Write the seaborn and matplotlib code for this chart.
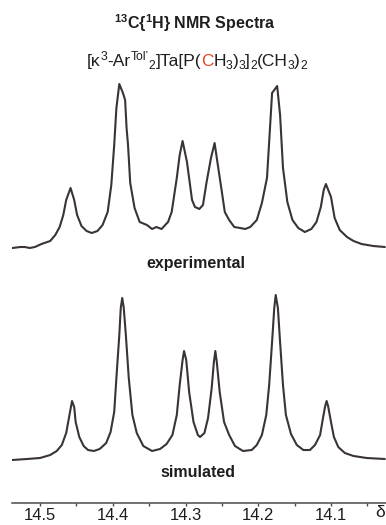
import numpy as np
import pandas as pd
import matplotlib
matplotlib.use("Agg")
import matplotlib.pyplot as plt
import seaborn as sns
from matplotlib.font_manager import FontProperties, findfont, get_font

# ---------------- data ----------------
exp_ppm = [14.538, 14.527, 14.521, 14.514, 14.507, 14.498, 14.486, 14.479, 14.473,
           14.468, 14.464, 14.458, 14.453, 14.449, 14.443, 14.436, 14.429, 14.421,
           14.414, 14.407, 14.402, 14.398, 14.395, 14.391, 14.386, 14.383, 14.381,
           14.379, 14.376, 14.370, 14.363, 14.353, 14.346, 14.340, 14.333, 14.324,
           14.319, 14.312, 14.308, 14.304, 14.298, 14.291, 14.287, 14.281, 14.276,
           14.271, 14.265, 14.260, 14.256, 14.250, 14.246, 14.240, 14.233, 14.225,
           14.218, 14.211, 14.202, 14.195, 14.188, 14.185, 14.181, 14.174, 14.170,
           14.166, 14.160, 14.153, 14.145, 14.136, 14.127, 14.120, 14.114, 14.110,
           14.107, 14.100, 14.095, 14.088, 14.078, 14.069, 14.058, 14.042, 14.026]
exp_int = [0.00, 0.01, 0.01, 0.00, 0.01, 0.04, 0.07, 0.13, 0.21,
           0.33, 0.48, 0.60, 0.48, 0.33, 0.22, 0.17, 0.15, 0.17,
           0.23, 0.36, 0.63, 1.03, 1.40, 1.64, 1.55, 1.48, 1.20,
           1.03, 0.65, 0.40, 0.26, 0.23, 0.19, 0.21, 0.19, 0.26,
           0.36, 0.70, 0.93, 1.07, 0.86, 0.48, 0.41, 0.39, 0.43,
           0.66, 0.90, 1.05, 0.85, 0.56, 0.36, 0.28, 0.21, 0.20,
           0.19, 0.21, 0.28, 0.45, 0.70, 1.06, 1.55, 1.62, 1.33,
           0.80, 0.46, 0.28, 0.20, 0.16, 0.19, 0.26, 0.41, 0.58,
           0.64, 0.51, 0.30, 0.18, 0.11, 0.07, 0.04, 0.02, 0.01]

sim_ppm = [14.538, 14.518, 14.500, 14.486, 14.477, 14.470, 14.464, 14.460, 14.457,
           14.456, 14.453, 14.451, 14.446, 14.440, 14.434, 14.426, 14.418, 14.409,
           14.403, 14.398, 14.395, 14.391, 14.389, 14.387, 14.385, 14.382, 14.378,
           14.373, 14.367, 14.358, 14.346, 14.335, 14.326, 14.318, 14.312, 14.308,
           14.304, 14.302, 14.299, 14.295, 14.289, 14.283, 14.280, 14.274, 14.269,
           14.264, 14.261, 14.259, 14.257, 14.253, 14.247, 14.240, 14.232, 14.221,
           14.209, 14.202, 14.195, 14.189, 14.185, 14.181, 14.178, 14.176, 14.173,
           14.170, 14.166, 14.162, 14.155, 14.147, 14.138, 14.129, 14.122, 14.115,
           14.111, 14.108, 14.106, 14.104, 14.100, 14.096, 14.090, 14.081, 14.069,
           14.051, 14.026]
sim_int = [0.00, 0.01, 0.02, 0.05, 0.09, 0.15, 0.27, 0.43, 0.55,
           0.59, 0.53, 0.38, 0.23, 0.14, 0.10, 0.09, 0.11, 0.17,
           0.28, 0.48, 0.82, 1.25, 1.52, 1.62, 1.53, 1.25, 0.82,
           0.45, 0.27, 0.14, 0.09, 0.11, 0.16, 0.25, 0.45, 0.75,
           1.00, 1.09, 1.00, 0.68, 0.38, 0.25, 0.23, 0.27, 0.42,
           0.72, 0.98, 1.09, 0.98, 0.68, 0.38, 0.25, 0.14, 0.09,
           0.10, 0.15, 0.25, 0.45, 0.75, 1.18, 1.52, 1.65, 1.52,
           1.18, 0.75, 0.45, 0.26, 0.15, 0.10, 0.10, 0.15, 0.25,
           0.42, 0.54, 0.59, 0.54, 0.38, 0.23, 0.13, 0.07, 0.04,
           0.02, 0.01]

major_ticks = [14.5, 14.4, 14.3, 14.2, 14.1]
major_labels = ["14.5", "14.4", "14.3", "14.2", "14.1"]
minor_ticks = [14.45, 14.35, 14.25, 14.15, 14.05]

title_text = r"$^{13}$C{$^{1}$H} NMR Spectra"
# subtitle pieces: (text, position kind, highlighted?)
sub_pieces = [("[κ", "n", False), ("3", "sup", False), ("-Ar", "n", False),
              ("Tol’", "sup", False), ("2", "sub", False), ("]Ta[P(", "n", False),
              ("C", "n", True), ("H", "n", False), ("3", "sub", False),
              (")", "n", False), ("3", "sub", False), ("]", "n", False),
              ("2", "sub", False), ("(CH", "n", False), ("3", "sub", False),
              (")", "n", False), ("2", "sub", False)]
label_exp = "experimental"
label_sim = "simulated"
axis_symbol = "δ"

# ---------------- style ----------------
sns.set_theme(style="white")
plt.rcParams["font.family"] = ["Liberation Sans", "DejaVu Sans"]
plt.rcParams["mathtext.fontset"] = "custom"
plt.rcParams["mathtext.rm"] = "Liberation Sans"
plt.rcParams["mathtext.it"] = "Liberation Sans:italic"
plt.rcParams["mathtext.bf"] = "Liberation Sans:bold"
plt.rcParams["mathtext.default"] = "regular"

LINE = "#3a3434"
TXT = "#1e1e1e"
RED = "#e8412c"
DPI = 100

W, H = 386, 525
fig = plt.figure(figsize=(W / DPI, H / DPI), dpi=DPI)
fig.patch.set_facecolor("white")

def px_axes(left, top, right, bottom):
    return fig.add_axes([left / W, 1 - bottom / H, (right - left) / W, (bottom - top) / H])

xlim = (14.5385, 14.0244)

ax_exp = px_axes(12, 80, 386, 252)
ax_sim = px_axes(12, 290, 386, 503)

df_exp = pd.DataFrame({"ppm": exp_ppm, "intensity": exp_int})
df_sim = pd.DataFrame({"ppm": sim_ppm, "intensity": sim_int})

sns.lineplot(data=df_exp, x="ppm", y="intensity", ax=ax_exp, color=LINE,
             linewidth=1.5, estimator=None, sort=False)
sns.lineplot(data=df_sim, x="ppm", y="intensity", ax=ax_sim, color=LINE,
             linewidth=1.5, estimator=None, sort=False)

for ax in (ax_exp, ax_sim):
    ax.set_xlim(*xlim)
    ax.set_xlabel("")
    ax.set_ylabel("")
    ax.set_facecolor("none")
    for s in ("top", "left", "right"):
        ax.spines[s].set_visible(False)
    ax.set_yticks([])

ax_exp.set_ylim(-0.04, 1.68)
ax_exp.spines["bottom"].set_visible(False)
ax_exp.set_xticks([])

ax_sim.set_ylim(-0.43, 1.70)
ax_sim.spines["bottom"].set_color("#4a4a4a")
ax_sim.spines["bottom"].set_linewidth(1.1)
ax_sim.set_xticks(major_ticks)
ax_sim.set_xticklabels(major_labels)
ax_sim.set_xticks(minor_ticks, minor=True)
ax_sim.tick_params(axis="x", which="both", direction="out", length=2.5, width=1.0,
                   color="#4a4a4a", bottom=True, pad=1.2, labelsize=12, labelcolor=TXT)

# ---------------- texts ----------------
fig.text(195 / W, 1 - 29 / H, title_text, ha="center", va="baseline",
         fontsize=11.5, fontweight="bold", color=TXT)

def run_advance(s, fs):
    """advance width (px) of a run of text in Liberation Sans."""
    fp = FontProperties(family="Liberation Sans", size=fs)
    font = get_font(findfont(fp))
    font.set_size(fs, DPI)
    adv = 0.0
    prev = None
    for ch in s:
        gi = font.get_char_index(ord(ch))
        if prev is not None:
            adv += font.get_kerning(prev, gi, 0) / 64.0
        g = font.load_glyph(gi)
        adv += g.linearHoriAdvance / 65536.0
        prev = gi
    return adv

size = 12.5
base_px = 66
offsets = {"n": 0.0, "sup": -5.5, "sub": 3.0}   # baseline shift in px (down positive)
runs = []
for txt, kind, hi in sub_pieces:
    fs = size if kind == "n" else size * 0.70
    runs.append((txt, kind, hi, fs, run_advance(txt, fs)))
total = sum(r[4] for r in runs)
pen = 197 - total / 2
for txt, kind, hi, fs, adv in runs:
    fig.text(pen / W, 1 - (base_px + offsets[kind]) / H, txt,
             ha="left", va="baseline", fontsize=fs, color=RED if hi else TXT)
    pen += adv

fig.text(196 / W, 1 - 268 / H, label_exp, ha="center", va="baseline",
         fontsize=11.5, fontweight="bold", color=TXT)
fig.text(198 / W, 1 - 477 / H, label_sim, ha="center", va="baseline",
         fontsize=11.5, fontweight="bold", color=TXT)
fig.text(385 / W, 1 - 517 / H, axis_symbol, ha="right", va="baseline",
         fontsize=12.5, color=TXT)

fig.savefig("out.png", dpi=DPI, facecolor="white")
